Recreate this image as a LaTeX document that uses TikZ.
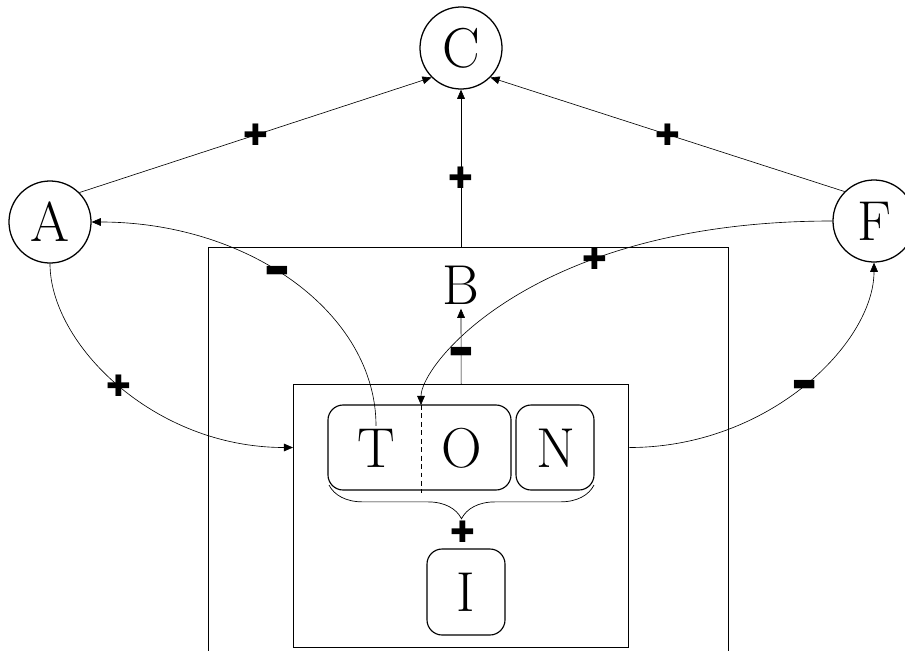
\documentclass[tikz,border=0pt]{standalone}
\usepackage{fontspec}
\newfontfamily\symfont{DejaVu Sans}
\usetikzlibrary{arrows.meta,decorations.pathreplacing,calc}
\begin{document}
\begin{tikzpicture}[x=0.025cm,y=-0.025cm,
  bigtext/.style={font=\fontsize{40}{40}\selectfont, inner sep=2pt},
  circ/.style={circle, draw, line width=0.9pt, minimum size=2.05cm, inner sep=0pt, font=\fontsize{40}{40}\selectfont},
  frame/.style={draw, line width=0.9pt, inner sep=0pt, anchor=north west},
  rbox/.style={draw, line width=0.8pt, rounded corners=0.38cm, minimum height=2.125cm, inner sep=0pt},
  conn/.style={line width=0.45pt, -{Triangle[length=6.5pt,width=5.5pt]}},
  pl/.style={font=\symfont\fontsize{21}{21}\selectfont, inner sep=0pt},
  mi/.style={font=\symfont\fontsize{19}{19}\selectfont, inner sep=0pt, yscale=0.85}
]
\useasboundingbox (0,0) rectangle (905,650);
\clip (0,0) rectangle (905,650);

% frames
\node[frame, minimum width=13cm, minimum height=12cm] (outer) at (208,247) {};
\node[frame, minimum width=8.375cm, minimum height=6.575cm] (inner) at (293,384) {};

% circles
\node[circ] (C) at (461,48) {C};
\node[circ] (A) at (50,222) {A};
\node[circ] (F) at (874,221) {F};

% B label
\node[bigtext, inner sep=3pt] (B) at (461,285) {B};

% rounded boxes
\node[rbox, minimum width=4.575cm] (TO) at (419.5,447.5) {};
\node[rbox, minimum width=1.95cm] (Nb) at (555,447.5) {};
\node[rbox, minimum width=1.95cm, minimum height=2.15cm] (Ib) at (466,592) {};

\node[bigtext] (T) at (376,448) {T};
\node[bigtext] (O) at (462,448) {O};
\node[bigtext] (N) at (556,448) {N};
\node[bigtext] (I) at (466,592) {I};

% dashed divider
\coordinate (dtop) at (421,405);
\coordinate (dbot) at (421,493);
\draw[dashed, dash pattern=on 3.5pt off 2.5pt, line width=0.6pt] (dtop) -- (dbot);

% brace
\coordinate (bl) at (329,485);
\coordinate (br) at (594,485);
\draw[decorate, decoration={brace, mirror, amplitude=24pt}, line width=0.5pt] (bl) -- (br);
\node[pl] (plusI) at (463,532) {✚};

% straight edges
\draw[conn] (A.north east) -- node[pl]{✚} (C.south west);
\draw[conn] (F.north west) -- node[pl]{✚} (C.south east);
\draw[conn] (C.south |- outer.north) -- node[pl, pos=0.44]{✚} (C.south);
\draw[conn] (inner.north) -- node[mi, pos=0.42]{▬} (B.south);

% curved edges
\draw[conn] (T.north) to[out=90,in=0,out looseness=0.82,in looseness=1.15] node[mi,pos=0.55]{▬} (A.east);
\draw[conn] (F.west) to[out=180,in=90,out looseness=1.7,in looseness=0.23] node[pl,pos=0.33]{✚} (dtop);
\draw[conn] (A.south) to[out=-90,in=180,out looseness=0.67,in looseness=1.17] node[pl,pos=0.5]{✚} (inner.west |- TO.center);
\draw[conn] (inner.east |- TO.center) to[out=0,in=-90,out looseness=1.17,in looseness=0.67] node[mi,pos=0.5]{▬} (F.south);
\end{tikzpicture}
\end{document}
